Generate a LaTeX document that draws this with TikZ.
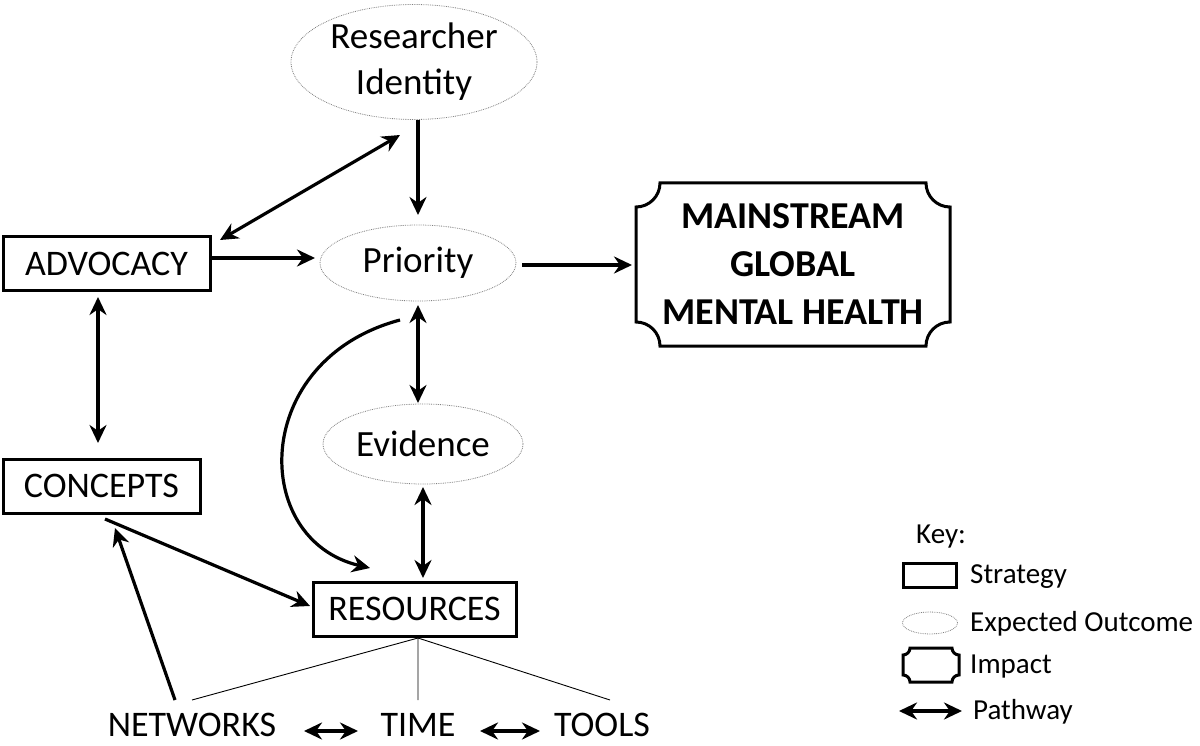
\documentclass[tikz,border=0pt]{standalone}
\usepackage{fontspec}
\setmainfont{Carlito}
\usetikzlibrary{shapes.geometric,arrows.meta}
\newcommand{\plaque}[5]{% x0 y0 x1 y1 r
 \pgfmathsetmacro{\k}{0.552*#5}
 \draw[line width=3pt] (#1+#5,#2) -- (#3-#5,#2) .. controls (#3-#5,#2+\k) and (#3-\k,#2+#5) .. (#3,#2+#5)
 -- (#3,#4-#5) .. controls (#3-\k,#4-#5) and (#3-#5,#4-\k) .. (#3-#5,#4)
 -- (#1+#5,#4) .. controls (#1+#5,#4-\k) and (#1+\k,#4-#5) .. (#1,#4-#5)
 -- (#1,#2+#5) .. controls (#1+\k,#2+#5) and (#1+#5,#2+\k) .. cycle;}
\begin{document}
\begin{tikzpicture}[x=1pt,y=-1pt,
 strat/.style={draw,line width=3pt,minimum width=#1,minimum height=54pt,font=\fontsize{36}{40}\selectfont,inner sep=0pt},
 outc/.style={draw=gray,densely dotted,line width=0.8pt,ellipse,font=\fontsize{37}{46}\selectfont,align=center,inner sep=0pt},
 arr/.style={line width=3.2pt,-{Stealth[length=18pt,width=17pt]}},
 darr/.style={line width=3.2pt,{Stealth[length=18pt,width=17pt]}-{Stealth[length=18pt,width=17pt]}},
 thin/.style={line width=0.9pt},
 lbl/.style={font=\fontsize{36}{40}\selectfont,inner sep=0pt},
 keyl/.style={font=\fontsize{29}{32}\selectfont,anchor=west,inner sep=0pt}]
\useasboundingbox (0,0) rectangle (1200,746);
\node[outc,minimum width=246pt,minimum height=115pt] (ri) at (414,62) {Researcher\\Identity};
\node[outc,minimum width=196pt,minimum height=76pt] (pr) at (418,263) {Priority};
\node[outc,minimum width=200pt,minimum height=80pt] (ev) at (423,444) {Evidence};
\node[strat=207pt] (adv) at (106.5,264) {ADVOCACY};
\node[strat=197pt] (con) at (101.5,486) {CONCEPTS};
\node[strat=203pt] (res) at (414.5,609) {RESOURCES};
\plaque{636}{183}{950}{346}{24}
\node[font=\fontsize{38}{48}\selectfont\bfseries,align=center] (imp) at (793,264.5) {MAINSTREAM\\GLOBAL\\MENTAL HEALTH};
\coordinate (impw) at (632,265);
\node[lbl] (net) at (192,725) {NETWORKS};
\node[lbl] (time) at (418,725) {TIME};
\node[lbl] (tools) at (602,725) {TOOLS};
\coordinate (rb) at (418,638);
\coordinate (n1) at (192,700);
\coordinate (n2) at (418,700);
\coordinate (n3) at (610,700);
\draw[thin] (rb)--(n1) (rb)--(n2) (rb)--(n3);
\draw[darr] (304,731)--(358,731);
\draw[darr] (480,731)--(540,731);
\draw[arr] (418,120) -- (418,215);
\draw[darr] (220,240) -- (400,135);
\draw[arr] (212,258) -- (315,258);
\draw[arr] (522,265) -- (impw);
\draw[darr] (418,305) -- (418,403);
\draw[darr] (423,487) -- (423,578);
\draw[darr] (98,297) -- (98,443);
\draw[arr] (400,320) .. controls (250,360) and (250,540) .. (370,568);
\draw[arr] (105,519) -- (310,606);
\draw[arr] (175,700) -- (115,528);
% key
\node[keyl] (key) at (916,537) {Key:};
\node[draw,line width=3pt,minimum width=53pt,minimum height=24pt,inner sep=0pt] (k1) at (930,575) {};
\node[keyl] at (970,577) {Strategy};
\node[draw=gray,densely dotted,line width=0.8pt,ellipse,minimum width=55pt,minimum height=22pt,inner sep=0pt] (k2) at (930,623) {};
\node[keyl] at (970,624) {Expected Outcome};
\plaque{903}{648}{959}{682}{7}
\node[keyl] at (970,667) {Impact};
\draw[darr] (899,711)--(962,711);
\node[keyl] at (973,712) {Pathway};
\end{tikzpicture}
\end{document}
